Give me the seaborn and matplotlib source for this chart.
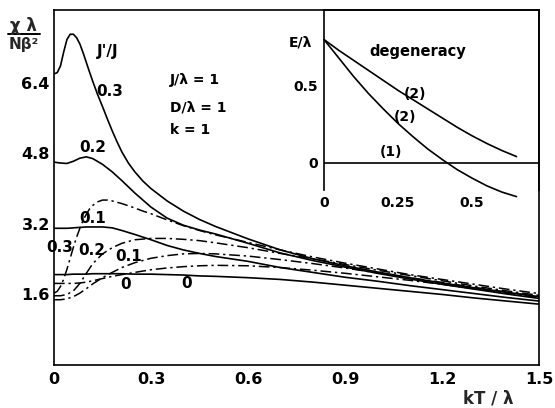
import matplotlib
matplotlib.use("Agg")
import matplotlib.pyplot as plt
import seaborn as sns
from matplotlib.lines import Line2D

# Reduced temperature grid kT/lambda
T = [0, 0.02, 0.04, 0.06, 0.08, 0.10, 0.12, 0.15, 0.18, 0.21, 0.25, 0.3, 0.35,
     0.4, 0.45, 0.5, 0.6, 0.7, 0.8, 0.9, 1.0, 1.1, 1.2, 1.3, 1.4, 1.5]
# Finer grid for the two J'/J = 0.3 curves, which change fast at low T
T_fine = [0, 0.01, 0.02, 0.03, 0.04, 0.05, 0.06, 0.07, 0.08, 0.09, 0.10, 0.11, 0.12,
          0.135, 0.15, 0.165, 0.18, 0.195, 0.21, 0.23, 0.25, 0.275, 0.3,
          0.35, 0.4, 0.45, 0.5, 0.6, 0.7, 0.8, 0.9, 1.0, 1.1, 1.2, 1.3, 1.4, 1.5]

# Susceptibility chi*lambda/(N beta^2), solid family, J'/J = 0.3, 0.2, 0.1, 0
solid_03 = [6.60, 6.63, 6.78, 7.10, 7.38, 7.50, 7.50, 7.42, 7.28, 7.08, 6.86, 6.64, 6.43,
            6.13, 5.86, 5.58, 5.31, 5.06, 4.83, 4.58, 4.38, 4.17, 4.00,
            3.72, 3.49, 3.30, 3.14, 2.86, 2.61, 2.41, 2.25, 2.11, 1.98, 1.86, 1.75, 1.65, 1.55]
solid_02 = [4.60, 4.58, 4.57, 4.62, 4.69, 4.72, 4.68, 4.55, 4.38, 4.18, 3.90, 3.58, 3.33,
            3.17, 3.06, 2.97, 2.76, 2.54, 2.37, 2.22, 2.08, 1.95, 1.83, 1.72, 1.61, 1.51]
solid_01 = [3.10, 3.10, 3.10, 3.11, 3.12, 3.13, 3.13, 3.13, 3.11, 3.05, 2.96, 2.84, 2.71,
            2.61, 2.53, 2.46, 2.35, 2.21, 2.10, 1.99, 1.90, 1.80, 1.71, 1.62, 1.53, 1.45]
solid_00 = [2.05, 2.05, 2.05, 2.06, 2.06, 2.06, 2.07, 2.07, 2.07, 2.07, 2.06, 2.06, 2.05,
            2.04, 2.02, 2.01, 1.98, 1.94, 1.88, 1.81, 1.74, 1.67, 1.60, 1.52, 1.45, 1.38]

# Dash-dot family, J'/J = 0.3, 0.2, 0.1, 0
dash_03 = [1.63, 1.67, 1.78, 1.95, 2.17, 2.42, 2.67, 2.90, 3.10, 3.28, 3.42, 3.54, 3.62,
           3.70, 3.74, 3.74, 3.72, 3.69, 3.66, 3.61, 3.56, 3.49, 3.43,
           3.29, 3.16, 3.05, 2.95, 2.78, 2.61, 2.45, 2.31, 2.18, 2.05, 1.94, 1.83, 1.72, 1.62]
dash_02 = [1.57, 1.57, 1.60, 1.68, 1.85, 2.08, 2.30, 2.52, 2.66, 2.76, 2.84, 2.87, 2.87,
           2.85, 2.82, 2.77, 2.66, 2.53, 2.41, 2.28, 2.15, 2.03, 1.91, 1.79, 1.68, 1.58]
dash_01 = [1.48, 1.48, 1.50, 1.55, 1.63, 1.73, 1.84, 1.98, 2.10, 2.21, 2.32, 2.42, 2.48,
           2.52, 2.53, 2.52, 2.47, 2.39, 2.30, 2.20, 2.09, 1.98, 1.87, 1.76, 1.65, 1.55]
dash_00 = [1.85, 1.85, 1.85, 1.85, 1.86, 1.88, 1.91, 1.96, 2.01, 2.05, 2.10, 2.16, 2.20,
           2.23, 2.25, 2.26, 2.25, 2.21, 2.15, 2.08, 2.00, 1.92, 1.83, 1.73, 1.63, 1.53]

# Axis ticks
x_ticks = [0, 0.3, 0.6, 0.9, 1.2, 1.5]
x_ticklabels = ["0", "0.3", "0.6", "0.9", "1.2", "1.5"]
x_minor = [0.15, 0.45, 0.75, 1.05, 1.35]
y_ticks = [1.6, 3.2, 4.8, 6.4]
y_ticklabels = ["1.6", "3.2", "4.8", "6.4"]
y_minor = [0.8, 2.4, 4.0, 5.6, 7.2]

# Inset: energy levels E/lambda
E_x = [0, 0.05, 0.1, 0.15, 0.2, 0.25, 0.3, 0.35, 0.4, 0.45, 0.5, 0.55, 0.6, 0.65]
E_upper = [0.80, 0.73, 0.665, 0.60, 0.535, 0.47, 0.41, 0.35, 0.29, 0.23, 0.175, 0.125, 0.08, 0.04]
E_lower = [0.80, 0.68, 0.56, 0.45, 0.35, 0.255, 0.17, 0.09, 0.02, -0.045, -0.10, -0.15, -0.19, -0.22]
E_single = 0.0
inset_xticks = [0, 0.25, 0.5]
inset_xticklabels = ["0", "0.25", "0.5"]
inset_yticks = [0, 0.5]
inset_yticklabels = ["0", "0.5"]

sns.set_theme(style="white")
plt.rcParams["font.family"] = ["DejaVu Sans"]
plt.rcParams["font.weight"] = "bold"

W, H = 555, 408
fig = plt.figure(figsize=(W / 100, H / 100), dpi=100)
ax = fig.add_axes([54 / W, (H - 365) / H, 485 / W, 355 / H])

dashdot = (0, (7, 2.5, 1.5, 2.5))
sns.lineplot(x=T_fine, y=solid_03, ax=ax, color="black", linewidth=1.2,
             estimator=None, sort=False)
for vals in (solid_02, solid_01, solid_00):
    sns.lineplot(x=T, y=vals, ax=ax, color="black", linewidth=1.2,
                 estimator=None, sort=False)
sns.lineplot(x=T_fine, y=dash_03, ax=ax, color="black", linewidth=1.1,
             linestyle=dashdot, estimator=None, sort=False)
for vals in (dash_02, dash_01, dash_00):
    sns.lineplot(x=T, y=vals, ax=ax, color="black", linewidth=1.1,
                 linestyle=dashdot, estimator=None, sort=False)

ax.set_xlim(0, 1.5)
ax.set_ylim(0, 8.05)
ax.set_xticks(x_ticks)
ax.set_xticklabels(x_ticklabels)
ax.set_xticks(x_minor, minor=True)
ax.set_yticks(y_ticks)
ax.set_yticklabels(y_ticklabels)
ax.set_yticks(y_minor, minor=True)
ax.tick_params(axis="both", which="both", direction="in", width=1.0,
               colors="black", labelsize=11.5)
ax.tick_params(axis="both", which="major", length=4)
ax.tick_params(axis="both", which="minor", length=3)
ax.tick_params(axis="x", pad=5)
ax.tick_params(axis="y", pad=3)
ax.set_xlabel("")
ax.set_ylabel("")
for s in ax.spines.values():
    s.set_visible(True)
    s.set_color("black")
    s.set_linewidth(1.2)

txt = dict(fontsize=11, fontweight="bold", color="black", ha="center", va="center")
ax.text(0.167, 7.10, "J'/J", **txt)
ax.text(0.173, 6.21, "0.3", **txt)
ax.text(0.121, 4.94, "0.2", **txt)
ax.text(0.121, 3.33, "0.1", **txt)
ax.text(0.019, 2.67, "0.3", clip_on=False, **txt)
ax.text(0.117, 2.60, "0.2", **txt)
ax.text(0.232, 2.47, "0.1", **txt)
ax.text(0.220, 1.83, "0", **txt)
ax.text(0.411, 1.85, "0", **txt)
side = dict(fontsize=10, fontweight="bold", color="black", ha="left", va="center")
ax.text(0.359, 6.47, "J/λ = 1", **side)
ax.text(0.359, 5.85, "D/λ = 1", **side)
ax.text(0.359, 5.33, "k = 1", **side)

# Axis captions
fig.text(488 / W, 0.5 / H, "kT / λ", fontsize=12, fontweight="bold",
         ha="center", va="bottom")
fig.text(23 / W, 1 - 26 / H, "χ λ", fontsize=12, fontweight="bold",
         ha="center", va="center")
fig.add_artist(Line2D([8 / W, 40 / W], [1 - 34 / H, 1 - 34 / H],
                      transform=fig.transFigure, color="black", linewidth=1.4))
fig.text(24 / W, 1 - 44 / H, "Nβ²", fontsize=11, fontweight="bold",
         ha="center", va="center")

# Inset with the level scheme
axin = fig.add_axes([324 / W, (H - 190) / H, 215 / W, 180 / H])
axin.patch.set_alpha(0)
sns.lineplot(x=E_x, y=E_upper, ax=axin, color="black", linewidth=1.2,
             estimator=None, sort=False)
sns.lineplot(x=E_x, y=E_lower, ax=axin, color="black", linewidth=1.2,
             estimator=None, sort=False, clip_on=False)
axin.axhline(E_single, color="black", linewidth=1.2)
axin.set_xlim(0, 0.726)
axin.set_ylim(-0.177, 0.992)
axin.set_xticks(inset_xticks)
axin.set_xticklabels(inset_xticklabels)
axin.set_yticks(inset_yticks)
axin.set_yticklabels(inset_yticklabels)
axin.tick_params(axis="both", direction="in", length=4, width=1.0,
                 colors="black", labelsize=10)
axin.tick_params(axis="x", pad=4)
axin.tick_params(axis="y", pad=4)
axin.set_xlabel("")
axin.set_ylabel("")
for name, s in axin.spines.items():
    s.set_color("black")
    s.set_linewidth(1.2)
    s.set_visible(name != "bottom")

itxt = dict(fontsize=10, fontweight="bold", color="black", ha="center", va="center")
axin.text(-0.08, 0.78, "E/λ", clip_on=False, **itxt)
axin.text(0.315, 0.72, "degeneracy", fontsize=10.5, fontweight="bold",
          color="black", ha="center", va="center")
axin.text(0.307, 0.446, "(2)", **itxt)
axin.text(0.274, 0.30, "(2)", **itxt)
axin.text(0.226, 0.07, "(1)", **itxt)

fig.savefig("out.png", dpi=100, facecolor="white")
